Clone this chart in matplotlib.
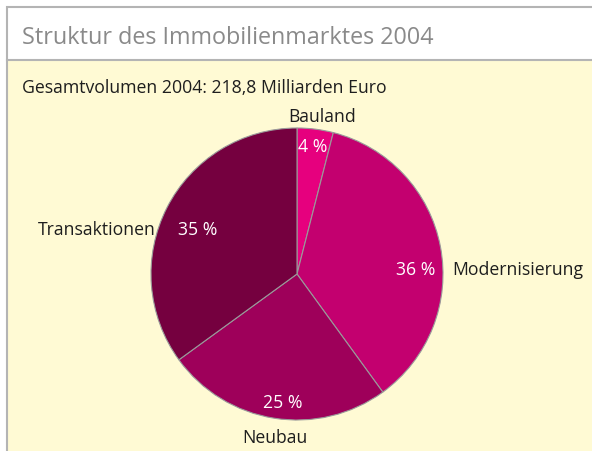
import matplotlib.pyplot as plt
from matplotlib.patches import Rectangle

plt.rcParams['font.family'] = ['Open Sans', 'DejaVu Sans']

# Daten
kategorien = ['Bauland', 'Modernisierung', 'Neubau', 'Transaktionen']
anteile = [4, 36, 25, 35]
prozent_labels = ['4 %', '36 %', '25 %', '35 %']
farben = ['#e6007e', '#c3006f', '#9e005a', '#75003f']

titel = 'Struktur des Immobilienmarktes 2004'
untertitel = 'Gesamtvolumen 2004: 218,8 Milliarden Euro'

# Textpositionen (Datenkoordinaten, Radius = 1)
label_pos = [(0.17, 1.085, 'center'), (1.06, 0.035, 'left'),
             (-0.15, -1.115, 'center'), (-0.97, 0.305, 'right')]
pct_pos = [(0.11, 0.875), (0.81, 0.035), (-0.10, -0.875), (-0.68, 0.305)]

W, H = 592, 452
fig = plt.figure(figsize=(W / 100, H / 100), dpi=100)
fig.patch.set_facecolor('white')

def px(x, y):
    return x / W, 1 - y / H

# Rahmen und Hintergrund
fig.patches.append(Rectangle(px(7, 452), (W + 10) / W, (452 - 61) / H,
                             transform=fig.transFigure, facecolor='#fffad4',
                             edgecolor='none', zorder=-2))
fig.patches.append(Rectangle(px(7, 470), (W + 10) / W, (470 - 8) / H,
                             transform=fig.transFigure, facecolor='none',
                             edgecolor='#b4b4b4', linewidth=1.5, zorder=-1))
fig.add_artist(plt.Line2D([7 / W, 1], [1 - 61 / H] * 2, transform=fig.transFigure,
                          color='#b4b4b4', linewidth=1.5, zorder=-1))

fig.text(*px(22, 38), titel, fontsize=16.8, color='#8a8a8a', va='center', ha='left')
fig.text(*px(22, 88), untertitel, fontsize=12.7, color='#1e1e1e', va='center', ha='left')

# Torte
cx, cy, r = 297, 275, 146
x0, y0 = px(cx - r, cy + r)
ax = fig.add_axes([x0, y0, 2 * r / W, 2 * r / H])
ax.set_zorder(5)
ax.pie(anteile, colors=farben, startangle=90, counterclock=False, radius=1,
       wedgeprops=dict(edgecolor='#9a9a9a', linewidth=0.8))
ax.set_xlim(-1, 1)
ax.set_ylim(-1, 1)
ax.set_aspect('equal')
ax.axis('off')

for name, (x, y, ha) in zip(kategorien, label_pos):
    ax.text(x, y, name, fontsize=12.7, color='#1e1e1e', ha=ha, va='center', clip_on=False)
for p, (x, y) in zip(prozent_labels, pct_pos):
    ax.text(x, y, p, fontsize=12.7, color='white', ha='center', va='center')

fig.savefig('out.png', dpi=100)
